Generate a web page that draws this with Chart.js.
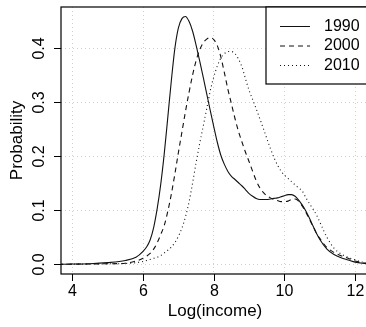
<!DOCTYPE html>
<html>
<head>
<meta charset="utf-8">
<script src="https://cdn.jsdelivr.net/npm/chart.js@4/dist/chart.umd.min.js"></script>
<style>
  html, body { margin: 0; padding: 0; background: #fff; overflow: hidden; }
  #wrap { width: 372px; height: 327px; }
</style>
</head>
<body>
<div id="wrap"><canvas id="chart"></canvas></div>
<script>
const seriesNames = ['1990', '2000', '2010'];

const logIncome = [3.6, 4.0, 4.5, 5.0, 5.5, 5.8, 6.0, 6.1, 6.2, 6.3, 6.4, 6.5, 6.6, 6.7, 6.8, 6.9,
  7.0, 7.1, 7.2, 7.3, 7.4, 7.5, 7.6, 7.7, 7.8, 7.9, 8.0, 8.1, 8.2, 8.3, 8.4, 8.5, 8.6, 8.7, 8.8, 8.9,
  9.0, 9.1, 9.2, 9.3, 9.4, 9.5, 9.6, 9.7, 9.8, 9.9, 10.0, 10.1, 10.2, 10.3, 10.4, 10.5, 10.6, 10.7,
  10.8, 10.9, 11.0, 11.2, 11.4, 11.6, 11.8, 12.0, 12.2, 12.4];

const dens1990 = [0, 0.0005, 0.001, 0.003, 0.007, 0.013, 0.024, 0.032, 0.045, 0.068, 0.103, 0.148, 0.205, 0.272, 0.340, 0.400,
  0.438, 0.455, 0.459, 0.450, 0.432, 0.406, 0.377, 0.347, 0.316, 0.285, 0.255, 0.226, 0.202, 0.185, 0.172, 0.163, 0.157, 0.151, 0.145, 0.138,
  0.131, 0.126, 0.122, 0.120, 0.120, 0.120, 0.121, 0.122, 0.123, 0.125, 0.127, 0.129, 0.129, 0.126, 0.119, 0.110, 0.099, 0.086,
  0.072, 0.058, 0.046, 0.028, 0.018, 0.012, 0.008, 0.004, 0.002, 0.001];

const dens2000 = [0, 0.0003, 0.0006, 0.001, 0.002, 0.006, 0.011, 0.015, 0.020, 0.028, 0.040, 0.055, 0.072, 0.098, 0.130, 0.167,
  0.207, 0.245, 0.283, 0.318, 0.350, 0.377, 0.397, 0.410, 0.417, 0.420, 0.416, 0.405, 0.384, 0.355, 0.324, 0.297, 0.270, 0.246, 0.226, 0.207,
  0.190, 0.172, 0.155, 0.142, 0.133, 0.127, 0.123, 0.120, 0.118, 0.116, 0.116, 0.117, 0.120, 0.121, 0.117, 0.108, 0.097, 0.084,
  0.071, 0.058, 0.048, 0.031, 0.022, 0.016, 0.011, 0.006, 0.003, 0.001];

const dens2010 = [0, 0.0002, 0.0004, 0.0008, 0.0015, 0.003, 0.005, 0.007, 0.009, 0.011, 0.013, 0.016, 0.021, 0.026, 0.032, 0.040,
  0.052, 0.067, 0.088, 0.115, 0.150, 0.188, 0.223, 0.255, 0.288, 0.321, 0.347, 0.367, 0.382, 0.390, 0.394, 0.394, 0.390, 0.380, 0.365, 0.343,
  0.322, 0.305, 0.288, 0.270, 0.252, 0.233, 0.215, 0.198, 0.184, 0.173, 0.165, 0.159, 0.153, 0.147, 0.141, 0.136, 0.124, 0.113,
  0.103, 0.092, 0.078, 0.050, 0.030, 0.019, 0.013, 0.008, 0.004, 0.002];

const xTicks = [4, 6, 8, 10, 12];
const xTickLabels = ['4', '6', '8', '10', '12'];
const yTicks = [0, 0.1, 0.2, 0.3, 0.4];
const yTickLabels = ['0.0', '0.1', '0.2', '0.3', '0.4'];

const FONT = '"Liberation Sans", Arial, Helvetica, sans-serif';
const INK = '#111';
const dashes = [[], [5, 4], [1, 3]];

function toPoints(vals) {
  return vals.map((v, i) => ({ x: logIncome[i], y: v }));
}

const allSeries = [dens1990, dens2000, dens2010];

// R-style frame, ticks, rotated labels and legend
const rFrame = {
  id: 'rFrame',
  afterDraw(chart) {
    const { ctx, chartArea: a, scales: { x, y } } = chart;
    ctx.save();
    ctx.strokeStyle = '#000';
    ctx.fillStyle = '#000';
    ctx.lineWidth = 1.2;
    ctx.setLineDash([]);
    ctx.strokeRect(a.left, a.top, a.right - a.left, a.bottom - a.top);

    ctx.lineWidth = 1;
    ctx.font = '16px ' + FONT;
    ctx.textAlign = 'center';
    ctx.textBaseline = 'middle';
    xTicks.forEach((v, i) => {
      const px = Math.round(x.getPixelForValue(v)) + 0.5;
      ctx.beginPath();
      ctx.moveTo(px, a.bottom);
      ctx.lineTo(px, a.bottom + 7);
      ctx.stroke();
      ctx.fillText(xTickLabels[i], px, a.bottom + 18);
    });
    yTicks.forEach((v, i) => {
      const py = Math.round(y.getPixelForValue(v)) + 0.5;
      ctx.beginPath();
      ctx.moveTo(a.left - 7, py);
      ctx.lineTo(a.left, py);
      ctx.stroke();
      ctx.save();
      ctx.translate(a.left - 21, py);
      ctx.rotate(-Math.PI / 2);
      ctx.fillText(yTickLabels[i], 0, 0);
      ctx.restore();
    });

    ctx.font = '17px ' + FONT;
    ctx.fillText('Log(income)', 215, 311);
    ctx.save();
    ctx.translate(17, (a.top + a.bottom) / 2);
    ctx.rotate(-Math.PI / 2);
    ctx.fillText('Probability', 0, 0);
    ctx.restore();

    // legend
    const lx = 266, ly = a.top, lw = a.right - lx, lh = 77;
    ctx.fillStyle = '#fff';
    ctx.fillRect(lx, ly, lw, lh);
    ctx.strokeStyle = '#000';
    ctx.lineWidth = 1.2;
    ctx.strokeRect(lx, ly, lw, lh);
    ctx.font = '16px ' + FONT;
    ctx.textAlign = 'left';
    ctx.fillStyle = '#000';
    seriesNames.forEach((name, i) => {
      const ry = ly + 19.5 + i * 19.5;
      ctx.strokeStyle = INK;
      ctx.lineWidth = 1;
      ctx.setLineDash(dashes[i]);
      ctx.beginPath();
      ctx.moveTo(280, ry);
      ctx.lineTo(310, ry);
      ctx.stroke();
      ctx.setLineDash([]);
      ctx.fillText(name, 324, ry);
    });
    ctx.restore();
  }
};

new Chart(document.getElementById('chart'), {
  type: 'line',
  data: {
    datasets: seriesNames.map((name, i) => ({
      label: name,
      data: toPoints(allSeries[i]),
      borderColor: INK,
      borderWidth: 1.1,
      borderDash: dashes[i],
      pointRadius: 0,
      fill: false,
      cubicInterpolationMode: 'monotone'
    }))
  },
  options: {
    responsive: true,
    maintainAspectRatio: false,
    animation: false,
    layout: { padding: { left: 0, top: 7, right: 3, bottom: 0 } },
    plugins: { legend: { display: false }, tooltip: { enabled: false } },
    scales: {
      x: {
        type: 'linear',
        min: 3.68,
        max: 12.39,
        afterBuildTicks: s => { s.ticks = xTicks.map(v => ({ value: v })); },
        afterFit: s => { s.height = 53; },
        ticks: { display: false },
        grid: { color: '#cfcfcf', lineWidth: 1, drawTicks: false },
        border: { display: false, dash: [1, 3] }
      },
      y: {
        type: 'linear',
        min: -0.018,
        max: 0.4765,
        afterBuildTicks: s => { s.ticks = yTicks.map(v => ({ value: v })); },
        afterFit: s => { s.width = 61; },
        ticks: { display: false },
        grid: { color: '#cfcfcf', lineWidth: 1, drawTicks: false },
        border: { display: false, dash: [1, 3] }
      }
    }
  },
  plugins: [rFrame]
});
</script>
</body>
</html>
